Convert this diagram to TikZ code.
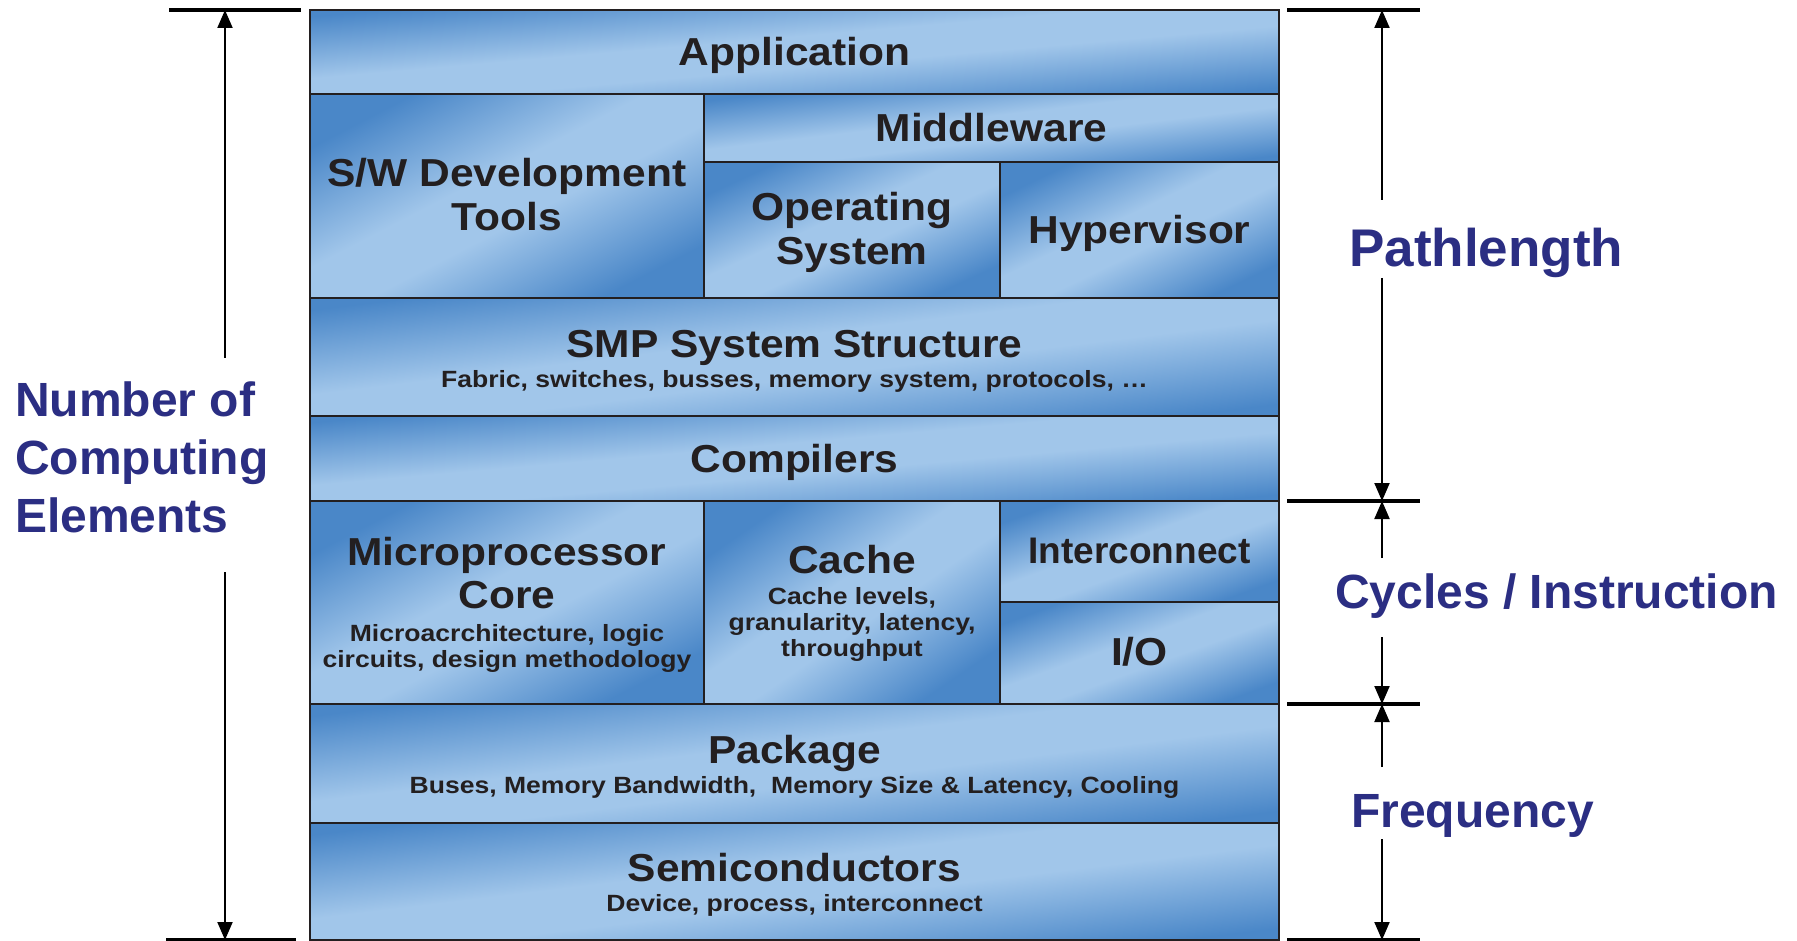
\documentclass[tikz,border=0pt]{standalone}
\usepackage{fontspec}
\setmainfont{Liberation Sans}
\newfontfamily\boxfont[FakeStretch=1.09]{Liberation Sans}
\newfontfamily\notefont[FakeStretch=1.13]{Liberation Sans}
\usetikzlibrary{arrows.meta}

\definecolor{bdark}{RGB}{74,135,200}
\definecolor{blight}{RGB}{161,198,234}
\definecolor{ink}{RGB}{35,31,32}
\definecolor{navy}{RGB}{43,46,131}

% blue gradient along a box diagonal: dark corners, light band in the middle
% (the path spans 25bp..75bp of the shading along its axis)
\pgfdeclareverticalshading{slab}{100bp}{color(0bp)=(bdark); color(25bp)=(bdark); color(45bp)=(blight); color(55bp)=(blight); color(75bp)=(bdark); color(100bp)=(bdark)}

\tikzset{
  layer/.style={draw=ink, line width=2.5pt, shade, shading=slab, inner sep=0pt},
  ttl/.style={font=\boxfont\bfseries\fontsize{39}{44}\selectfont, text=ink, inner sep=0pt, anchor=base},
  ttlsmall/.style={font=\bfseries\fontsize{37}{42}\selectfont, text=ink, inner sep=0pt, anchor=base},
  note/.style={font=\notefont\bfseries\fontsize{23.5}{26}\selectfont, text=ink, inner sep=0pt, anchor=base},
  lbl/.style={font=\bfseries\fontsize{48}{57}\selectfont, text=navy, inner sep=0pt, anchor=base west},
  lblbig/.style={font=\bfseries\fontsize{53}{60}\selectfont, text=navy, inner sep=0pt, anchor=base west},
  bar/.style={line width=4.5pt, draw=black},
  dim/.style={line width=2pt, draw=black, -{Triangle[length=18pt,width=15pt]}},
}

% #1 name, (#2,#3) top-left corner, (#4,#5) bottom-right corner;
% the shading axis is turned so that it runs from corner to corner
\newcommand\layerbox[5]{%
  \pgfmathsetmacro\layerang{atan((#5-#3)/(#4-#2))}%
  \node[layer, shading angle=\layerang,
        minimum width={(#4-#2)*1pt}, minimum height={(#5-#3)*1pt}]
    (#1) at ({(#2+#4)/2},{(#3+#5)/2}) {};}

\begin{document}
\begin{tikzpicture}[x=1pt, y=-1pt]
\useasboundingbox (0,0) rectangle (1797,941);
\fill[white] (0,0) rectangle (1797,941);

% ---- stack of layers ----
\layerbox{app}{310}{10}{1279}{94}
\layerbox{swt}{310}{94}{704}{298}
\layerbox{mid}{704}{94}{1279}{162}
\layerbox{os}{704}{162}{1000}{298}
\layerbox{hyp}{1000}{162}{1279}{298}
\layerbox{smp}{310}{298}{1279}{416}
\layerbox{comp}{310}{416}{1279}{501}
\layerbox{mpc}{310}{501}{704}{704}
\layerbox{cache}{704}{501}{1000}{704}
\layerbox{icn}{1000}{501}{1279}{602}
\layerbox{io}{1000}{602}{1279}{704}
\layerbox{pkg}{310}{704}{1279}{823}
\layerbox{semi}{310}{823}{1279}{940}

% ---- layer texts ----
\node[ttl] (app-t) at (794.5,66) {Application};
\node[ttl] (swt-t1) at (507,187) {S/W Development};
\node[ttl] (swt-t2) at (507,231) {Tools};
\node[ttl] (mid-t) at (991.5,142) {Middleware};
\node[ttl] (os-t1) at (852,221) {Operating};
\node[ttl] (os-t2) at (852,265) {System};
\node[ttl] (hyp-t) at (1139.5,244) {Hypervisor};
\node[ttl] (smp-t) at (794.5,357) {SMP System Structure};
\node[note] (smp-n) at (794.5,388) {Fabric, switches, busses, memory system, protocols, \dots};
\node[ttl] (comp-t) at (794.5,472) {Compilers};
\node[ttl] (mpc-t1) at (507,565) {Microprocessor};
\node[ttl] (mpc-t2) at (507,608) {Core};
\node[note] (mpc-n1) at (507,641) {Microacrchitecture, logic};
\node[note] (mpc-n2) at (507,667) {circuits, design methodology};
\node[ttl] (cache-t) at (852,573) {Cache};
\node[note] (cache-n1) at (852,604) {Cache levels,};
\node[note] (cache-n2) at (852,630) {granularity, latency,};
\node[note] (cache-n3) at (852,656) {throughput};
\node[ttlsmall] (icn-t) at (1139.5,563) {Interconnect};
\node[ttl] (io-t) at (1139.5,665) {I/O};
\node[ttl] (pkg-t) at (794.5,763) {Package};
\node[note] (pkg-n) at (794.5,793) {Buses, Memory Bandwidth,\ \ Memory Size \& Latency, Cooling};
\node[ttl] (semi-t) at (794.5,881) {Semiconductors};
\node[note] (semi-n) at (794.5,911) {Device, process, interconnect};

% ---- left dimension: number of computing elements ----
\coordinate (lbar-top-a) at (169,10);
\coordinate (lbar-top-b) at (301,10);
\coordinate (lbar-bot-a) at (166,940);
\coordinate (lbar-bot-b) at (296,940);
\coordinate (ldim-top) at (225,10);
\coordinate (ldim-bot) at (225,940);
\coordinate (ldim-gap-a) at (225,358);
\coordinate (ldim-gap-b) at (225,572);
\draw[bar] (lbar-top-a) -- (lbar-top-b);
\draw[bar] (lbar-bot-a) -- (lbar-bot-b);
\draw[dim] (ldim-gap-a) -- (ldim-top);
\draw[dim] (ldim-gap-b) -- (ldim-bot);
\node[lbl] (num-1) at (15,416) {Number of};
\node[lbl] (num-2) at (15,474) {Computing};
\node[lbl] (num-3) at (15,532) {Elements};

% ---- right dimensions ----
\coordinate (rbar-1a) at (1287,10);   \coordinate (rbar-1b) at (1420,10);
\coordinate (rbar-2a) at (1287,501);  \coordinate (rbar-2b) at (1420,501);
\coordinate (rbar-3a) at (1287,704);  \coordinate (rbar-3b) at (1420,704);
\coordinate (rbar-4a) at (1287,940);  \coordinate (rbar-4b) at (1420,940);
\draw[bar] (rbar-1a) -- (rbar-1b);
\draw[bar] (rbar-2a) -- (rbar-2b);
\draw[bar] (rbar-3a) -- (rbar-3b);
\draw[bar] (rbar-4a) -- (rbar-4b);

\coordinate (rdim-1) at (1382,10);
\coordinate (rdim-2) at (1382,501);
\coordinate (rdim-3) at (1382,704);
\coordinate (rdim-4) at (1382,940);
\coordinate (path-a) at (1382,200);
\coordinate (path-b) at (1382,278);
\coordinate (cpi-a) at (1382,558);
\coordinate (cpi-b) at (1382,637);
\coordinate (freq-a) at (1382,767);
\coordinate (freq-b) at (1382,839);

\draw[dim] (path-a) -- (rdim-1);
\draw[dim] (path-b) -- (rdim-2);
\draw[dim] (cpi-a) -- (rdim-2);
\draw[dim] (cpi-b) -- (rdim-3);
\draw[dim] (freq-a) -- (rdim-3);
\draw[dim] (freq-b) -- (rdim-4);

\node[lblbig] (path-t) at (1349,267) {Pathlength};
\node[lbl] (cpi-t) at (1335,608) {Cycles / Instruction};
\node[lbl] (freq-t) at (1351,827) {Frequency};
\end{tikzpicture}
\end{document}
